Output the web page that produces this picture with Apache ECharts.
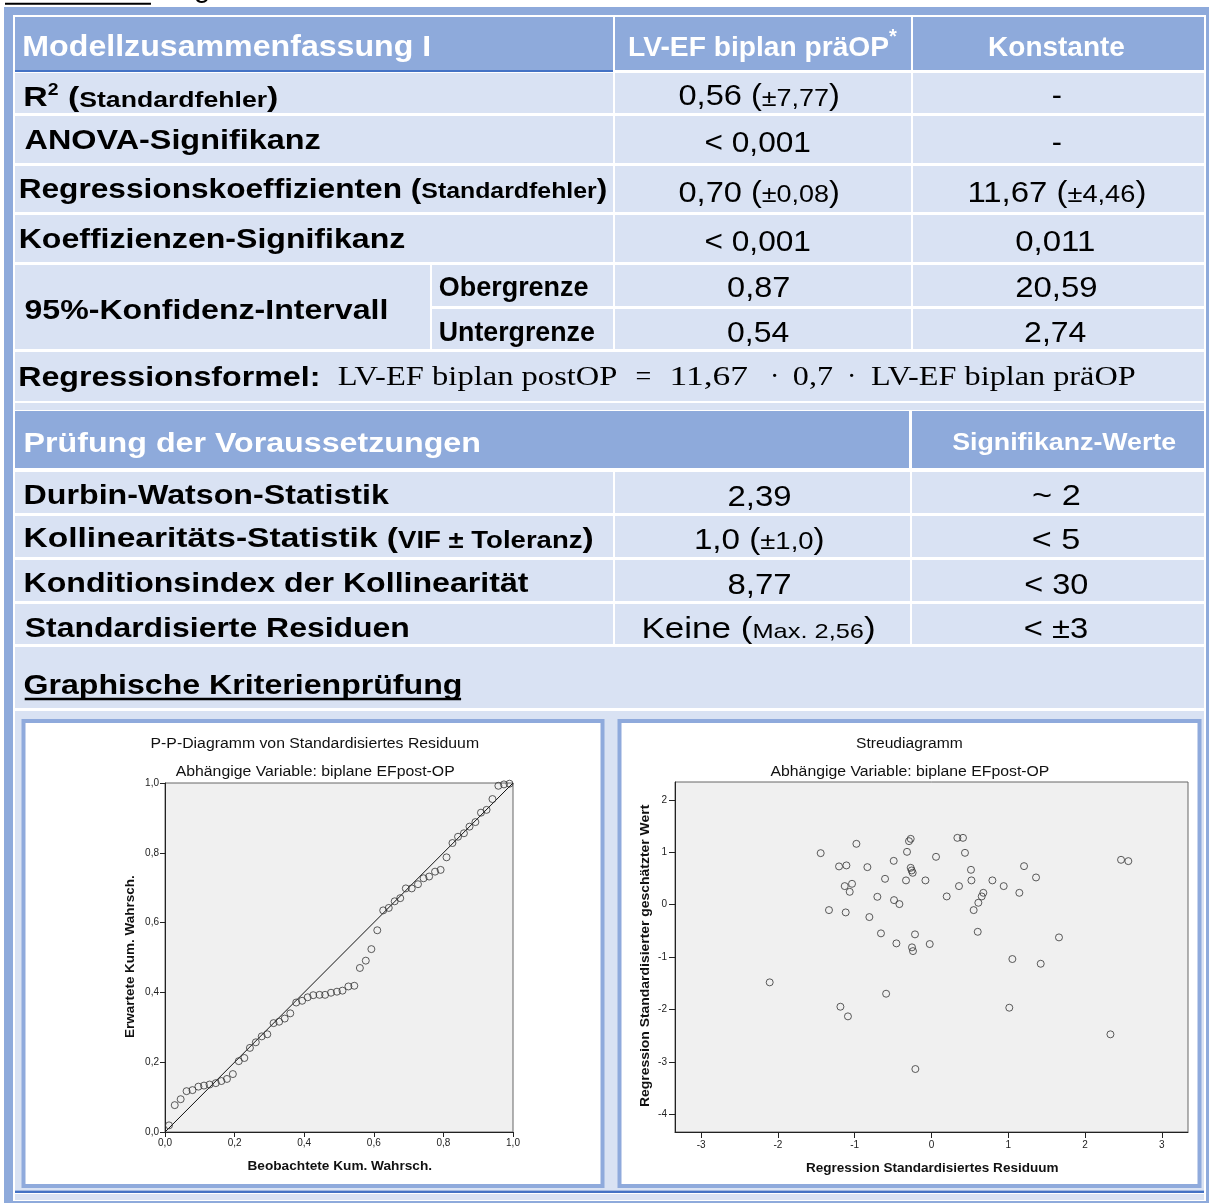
<!DOCTYPE html>
<html>
<head>
<meta charset="utf-8">
<script src="https://cdn.jsdelivr.net/npm/echarts@6.0.0/dist/echarts.min.js"></script>
<style>
html,body{margin:0;padding:0;background:#ffffff;}
#chart{width:1209px;height:1203px;}
</style>
</head>
<body>
<div id="chart"></div>
<script>
// ================= DATA =================
const tableCaption = 'Tabelle 12: Regressionsmodell';
const modelHeaders = ['Modellzusammenfassung I', 'LV-EF biplan präOP{sup|*}', 'Konstante'];
const modelRowLabels = ['R{sup|2} ({s|Standardfehler})', 'ANOVA-Signifikanz', 'Regressionskoeffizienten ({s|Standardfehler})', 'Koeffizienzen-Signifikanz', '95%-Konfidenz-Intervall'];
const ciLabels = ['Obergrenze', 'Untergrenze'];
const lvefValues = ['0,56 ({s|±7,77})', '< 0,001', '0,70 ({s|±0,08})', '< 0,001', '0,87', '0,54'];
const constantValues = ['-', '-', '11,67 ({s|±4,46})', '0,011', '20,59', '2,74'];
const formulaLabel = 'Regressionsformel:';
const formulaParts = ['LV-EF biplan postOP', '=', '11,67', '·', '0,7', '·', 'LV-EF biplan präOP'];
const checkHeaders = ['Prüfung der Voraussetzungen', 'Signifikanz-Werte'];
const checkLabels = ['Durbin-Watson-Statistik', 'Kollinearitäts-Statistik ({s|VIF ± Toleranz})', 'Konditionsindex der Kollinearität', 'Standardisierte Residuen'];
const checkValues = ['2,39', '1,0 ({s|±1,0})', '8,77', 'Keine ({s|Max. 2,56})'];
const checkThresholds = ['~ 2', '< 5', '< 30', '< ±3'];
const graphSectionTitle = 'Graphische Kriterienprüfung';

const ppTitles = ['P-P-Diagramm von Standardisiertes Residuum', 'Abhängige Variable: biplane EFpost-OP'];
const ppAxisNames = ['Beobachtete Kum. Wahrsch.', 'Erwartete Kum. Wahrsch.'];
const scTitles = ['Streudiagramm', 'Abhängige Variable: biplane EFpost-OP'];
const scAxisNames = ['Regression Standardisiertes Residuum', 'Regression Standardisierter geschätzter Wert'];

// P-P plot: observed vs expected cumulative probability
const ppObserved = [0.0115,0.028,0.045,0.062,0.079,0.096,0.112,0.128,0.146,0.162,
  0.178,0.195,0.212,0.228,0.244,0.261,0.278,0.294,0.312,0.328,
  0.344,0.360,0.377,0.394,0.410,0.426,0.444,0.460,0.477,0.494,
  0.510,0.527,0.544,0.560,0.577,0.593,0.610,0.627,0.643,0.660,
  0.676,0.692,0.709,0.727,0.743,0.759,0.776,0.792,0.809,0.826,
  0.842,0.859,0.875,0.892,0.908,0.924,0.941,0.958,0.974,0.990];
const ppExpected = [0.019,0.077,0.094,0.117,0.120,0.130,0.133,0.136,0.140,0.146,
  0.152,0.166,0.203,0.212,0.241,0.257,0.274,0.280,0.312,0.316,
  0.325,0.340,0.371,0.376,0.386,0.392,0.393,0.393,0.399,0.402,
  0.405,0.417,0.419,0.470,0.491,0.524,0.578,0.635,0.642,0.661,
  0.670,0.698,0.698,0.710,0.727,0.732,0.746,0.751,0.787,0.828,
  0.846,0.856,0.875,0.888,0.915,0.923,0.954,0.992,0.996,0.998];
const ppDiagonal = [[0, 0], [1, 1]];

// Scatter: standardized residual vs standardized predicted value
const stdResidual = [-1.443,-0.978,-1.335,-1.204,-1.108,-1.130,-1.035,-1.065,-1.117,-0.835,
  -0.809,-0.605,-0.705,-0.658,-0.492,-0.488,-0.418,-0.457,-0.319,-0.293,
  -0.271,-0.271,-0.258,-0.245,-0.332,-0.215,-0.254,-0.241,0.337,0.410,
  0.436,0.059,0.514,-0.079,0.520,0.358,0.793,0.940,1.205,1.361,
  1.144,0.198,0.675,0.654,0.610,0.549,0.602,-0.023,1.660,1.053,
  1.422,2.468,2.563,-2.107,-1.186,-1.088,-0.591,1.013,2.330,-0.210];
const stdPredicted = [0.982,1.160,-0.105,0.729,0.748,0.353,0.397,0.244,-0.149,0.715,
  -0.238,0.492,0.149,-0.549,0.835,0.086,0.010,-0.740,1.007,1.211,
  1.255,0.702,0.652,0.607,0.462,-0.568,-0.816,-0.887,1.274,1.274,
  0.988,0.912,0.664,0.462,0.462,0.353,0.462,0.353,0.734,0.518,
  0.225,0.156,0.225,0.156,0.035,-0.105,-0.519,-0.753,-0.626,-1.039,
  -1.129,0.855,0.830,-1.484,-1.949,-2.133,-1.701,-1.968,-2.476,-3.138];
const residualTicks = [-3, -2, -1, 0, 1, 2, 3];
const predictedTicks = [-4, -3, -2, -1, 0, 1, 2];

// ================= STYLE / LAYOUT =================
const SANS = '"Liberation Sans", Arial, sans-serif';
const SERIF = '"Liberation Serif", "Times New Roman", serif';
const BLUE = '#8EAADB', LIGHT = '#D9E2F3', DARK = '#4472C4', WHITE = '#ffffff';

const mctx = document.createElement('canvas').getContext('2d');
function parseMarkup(str) {
  const segs = []; const re = /\{(\w+)\|([^}]*)\}/g; let last = 0, m;
  while ((m = re.exec(str))) {
    if (m.index > last) segs.push({t: str.slice(last, m.index), k: 'n'});
    segs.push({t: m[2], k: m[1]});
    last = re.lastIndex;
  }
  if (last < str.length) segs.push({t: str.slice(last), k: 'n'});
  return segs;
}
// box: [x0, x1, capCenterY]  or for rotated text [centerX, yTop, yBottom]
function txt(str, box, st) {
  const size = st.size, fam = st.family || SANS, wt = st.weight || 'normal', col = st.color || '#000';
  const segs = parseMarkup(str);
  const base = 0.358 * size + 0.09 * size;
  let pos = 0, inkL = Infinity, inkR = -Infinity;
  const kids = [];
  segs.forEach(sg => {
    let sz = size, raise = 0;
    if (sg.k === 's') sz = st.small;
    else if (sg.k === 'sup') { sz = st.supSize; raise = st.supRaise; }
    const font = wt + ' ' + sz + 'px ' + fam;
    mctx.font = font;
    const m = mctx.measureText(sg.t);
    inkL = Math.min(inkL, pos - m.actualBoundingBoxLeft);
    inkR = Math.max(inkR, pos + m.actualBoundingBoxRight);
    kids.push({type: 'text', x: pos, y: base - 0.3465 * sz - raise, z: 1, z2: 10, silent: true,
      style: {text: sg.t, font: font, fill: col, align: 'left', verticalAlign: 'middle'}});
    pos += m.width;
  });
  const inkW = inkR - inkL;
  const g = {type: 'group', silent: true, children: kids};
  if (st.rot) {
    const sc = (box[2] - box[1]) / inkW;
    g.rotation = Math.PI / 2; g.scaleX = sc; g.x = box[0]; g.y = box[2] + inkL * sc;
  } else if (st.sx && st.anchor === 'left') {
    g.scaleX = st.sx; g.x = box[0] - inkL * st.sx; g.y = box[2];
  } else if (st.sx) {
    g.scaleX = st.sx; g.x = (box[0] + box[1]) / 2 - st.sx * (inkL + inkR) / 2; g.y = box[2];
  } else {
    const sc = (box[1] - box[0]) / inkW;
    g.scaleX = sc; g.x = box[0] - inkL * sc; g.y = box[2];
  }
  return g;
}

// cell rectangles [x0, y0, x1, y1, colour]
const cellRects = [[4, 7, 1209, 1203, BLUE], [13, 15, 1206, 1201, WHITE],
  [15, 17, 613, 70, BLUE], [615, 17, 911, 70, BLUE], [913, 17, 1204, 70, BLUE], [15, 70, 613, 72, DARK]];
[[73, 113], [116, 163], [166, 212], [215, 262]].forEach(r => {
  cellRects.push([15, r[0], 613, r[1], LIGHT], [615, r[0], 911, r[1], LIGHT], [913, r[0], 1204, r[1], LIGHT]);
});
cellRects.push([15, 265, 430, 349, LIGHT], [432, 265, 613, 306, LIGHT], [432, 309, 613, 349, LIGHT],
  [615, 265, 911, 306, LIGHT], [913, 265, 1204, 306, LIGHT], [615, 309, 911, 349, LIGHT], [913, 309, 1204, 349, LIGHT],
  [15, 352, 1204, 401, LIGHT], [15, 403, 1204, 410, LIGHT],
  [15, 411, 909, 468, BLUE], [912, 411, 1204, 468, BLUE]);
[[472, 513], [516, 557], [560, 601], [604, 644]].forEach(r => {
  cellRects.push([15, r[0], 613, r[1], LIGHT], [615, r[0], 910, r[1], LIGHT], [912, r[0], 1204, r[1], LIGHT]);
});
cellRects.push([15, 647, 1204, 708, LIGHT], [15, 711, 1204, 1190, LIGHT], [15, 1190.5, 1204, 1193, DARK], [15, 1194, 1204, 1200, LIGHT]);

const els = [];
cellRects.forEach(c => els.push({type: 'rect', z: 0, z2: 0, silent: true,
  shape: {x: c[0], y: c[1], width: c[2] - c[0], height: c[3] - c[1]}, style: {fill: c[4]}}));
// chart boxes
els.push({type: 'rect', z: 0, z2: 1, silent: true, shape: {x: 23.5, y: 721, width: 579, height: 465}, style: {fill: '#fff', stroke: '#8FAADC', lineWidth: 4}});
els.push({type: 'rect', z: 0, z2: 1, silent: true, shape: {x: 619.5, y: 721, width: 580, height: 465}, style: {fill: '#fff', stroke: '#8FAADC', lineWidth: 4}});
// underlines
els.push({type: 'line', z: 1, silent: true, shape: {x1: 5, y1: 3.7, x2: 151, y2: 3.7}, style: {stroke: '#000', lineWidth: 2}});
els.push({type: 'line', z: 1, silent: true, shape: {x1: 24.7, y1: 699, x2: 461.1, y2: 699}, style: {stroke: '#000', lineWidth: 2.5}});

const LBL = {size: 28, weight: 'bold', small: 22, supSize: 16, supRaise: 12.5};
const HDR = {size: 28, weight: 'bold', color: '#fff', supSize: 20, supRaise: 13};
const VAL = {size: 29, small: 24};

els.push(txt(tableCaption, [5, 0, -13.5], {size: 29, sx: 1.02, anchor: 'left'}));
const modelHeaderBoxes = [[24.5, 429.8, 44.2], [629.1, 897.1, 45], [989.1, 1124.3, 45]];
modelHeaders.forEach((t, i) => els.push(txt(t, modelHeaderBoxes[i], i === 0 ? Object.assign({}, HDR, {size: 30}) : HDR)));
const modelLabelBoxes = [[24.5, 276.8, 95.8], [24.5, 319.5, 138.3], [19.8, 605.8, 187.5], [19.8, 404.1, 237.5], [24.5, 386.3, 308.3]];
modelRowLabels.forEach((t, i) => els.push(txt(t, modelLabelBoxes[i], LBL)));
const ciBoxes = [[439.7, 588, 285.8], [439.7, 594.3, 330.8]];
ciLabels.forEach((t, i) => els.push(txt(t, ciBoxes[i], LBL)));
const lvefBoxes = [[679.6, 838.1, 94.2], [705.6, 809.7, 140.8], [679.6, 838.1, 190.8], [705.6, 809.7, 240], [728.2, 789.1, 285.8], [728.2, 789.1, 330.8]];
lvefValues.forEach((t, i) => els.push(txt(t, lvefBoxes[i], VAL)));
const constBoxes = [[1052.4, 1061.4, 94.2], [1052.4, 1061.4, 140.8], [969.7, 1144.5, 190.8], [1016.3, 1094, 240], [1016.3, 1096.3, 285.8], [1025.2, 1086.2, 330.8]];
constantValues.forEach((t, i) => els.push(txt(t, constBoxes[i], t === '-' ? Object.assign({}, VAL, {sx: 1.05}) : VAL)));
els.push(txt(formulaLabel, [19.3, 317.7, 375], LBL));
const formulaBoxes = [[337.7, 616.8], [632, 655], [672, 748], [771, 779], [794, 833], [848, 856], [871, 1135]];
formulaParts.forEach((t, i) => {
  const st = {size: 28, family: SERIF};
  if (t === '=' || t === '·') st.sx = 1.0;
  els.push(txt(t, [formulaBoxes[i][0], formulaBoxes[i][1], 375], st));
});
els.push(txt(checkHeaders[0], [24.7, 479.6, 441.7], HDR));
els.push(txt(checkHeaders[1], [952.2, 1175.8, 440.8], Object.assign({}, HDR, {size: 24})));
const checkLabelBoxes = [[24.7, 389.4, 493.3], [24.7, 592.1, 536.7], [24.7, 528.1, 581.7], [24.7, 408.6, 626.7]];
checkLabels.forEach((t, i) => els.push(txt(t, checkLabelBoxes[i], Object.assign({}, LBL, {small: 23}))));
const checkValueBoxes = [[728.6, 790.3, 495], [696.2, 822.7, 538], [728.6, 790.3, 583], [643.8, 873.6, 626.7]];
checkValues.forEach((t, i) => els.push(txt(t, checkValueBoxes[i], Object.assign({}, VAL, {small: i === 3 ? 21 : 24}))));
const checkThrBoxes = [[1033.2, 1079.4, 494.5], [1033, 1079, 538], [1025.4, 1087.1, 583], [1025, 1087, 626.7]];
checkThresholds.forEach((t, i) => els.push(txt(t, checkThrBoxes[i], VAL)));
els.push(txt(graphSectionTitle, [24.7, 461.1, 683.3], LBL));

// chart titles and axis names
const CT = {size: 14, color: '#111'};
const AN = {size: 13, weight: 'bold', color: '#111'};
els.push(txt(ppTitles[0], [151.7, 478.3, 742.7], CT));
els.push(txt(ppTitles[1], [175.7, 454.3, 770.7], CT));
els.push(txt(scTitles[0], [856, 962, 742.7], CT));
els.push(txt(scTitles[1], [770.5, 1049, 770.7], CT));
els.push(txt(ppAxisNames[0], [247.5, 431.4, 1165.3], AN));
els.push(txt(scAxisNames[0], [806, 1057.9, 1166.7], AN));
els.push(txt(ppAxisNames[1], [129, 876, 1038], Object.assign({}, AN, {rot: true})));
els.push(txt(scAxisNames[1], [644, 804, 1107], Object.assign({}, AN, {rot: true})));

// ================= CHART =================
const chart = echarts.init(document.getElementById('chart'), null, {renderer: 'canvas'});
const axisCommon = {
  type: 'value', z: 4,
  axisLine: {show: true, onZero: false, lineStyle: {color: '#222', width: 1}},
  splitLine: {show: false},
  axisLabel: {fontSize: 10, color: '#222', fontFamily: SANS}
};
const comma = v => v.toFixed(1).replace('.', ',');
const option = {
  animation: false,
  backgroundColor: '#ffffff',
  textStyle: {fontFamily: SANS},
  graphic: {elements: els},
  grid: [
    {left: 165, top: 783, width: 348, height: 349, show: true, backgroundColor: '#F0F0F0', borderColor: '#666', borderWidth: 1, z: 3},
    {left: 675, top: 782, width: 513, height: 350, show: true, backgroundColor: '#F0F0F0', borderColor: '#666', borderWidth: 1, z: 3}
  ],
  xAxis: [
    Object.assign({}, axisCommon, {gridIndex: 0, min: 0, max: 1, interval: 0.2,
      axisTick: {show: true, length: 5, lineStyle: {color: '#222'}},
      axisLabel: Object.assign({}, axisCommon.axisLabel, {margin: 6, formatter: comma})}),
    Object.assign({}, axisCommon, {gridIndex: 1, min: -3.34, max: 3.34,
      axisTick: {show: true, length: 6, customValues: residualTicks, lineStyle: {color: '#222'}},
      axisLabel: Object.assign({}, axisCommon.axisLabel, {margin: 8, customValues: residualTicks, formatter: v => String(v)})})
  ],
  yAxis: [
    Object.assign({}, axisCommon, {gridIndex: 0, min: 0, max: 1, interval: 0.2,
      axisTick: {show: true, length: 5, lineStyle: {color: '#222'}},
      axisLabel: Object.assign({}, axisCommon.axisLabel, {margin: 6, formatter: comma})}),
    Object.assign({}, axisCommon, {gridIndex: 1, min: -4.34, max: 2.34,
      axisTick: {show: true, length: 6, customValues: predictedTicks, lineStyle: {color: '#222'}},
      axisLabel: Object.assign({}, axisCommon.axisLabel, {margin: 8, customValues: predictedTicks, formatter: v => String(v)})})
  ],
  series: [
    {type: 'line', xAxisIndex: 0, yAxisIndex: 0, data: ppDiagonal, symbol: 'none', silent: true, z: 5,
      lineStyle: {color: '#111', width: 1}},
    {type: 'scatter', xAxisIndex: 0, yAxisIndex: 0, silent: true, z: 6,
      data: ppObserved.map((x, i) => [x, ppExpected[i]]),
      symbol: 'circle', symbolSize: 7,
      itemStyle: {color: 'rgba(0,0,0,0)', borderColor: '#333', borderWidth: 1}},
    {type: 'scatter', xAxisIndex: 1, yAxisIndex: 1, silent: true, z: 6,
      data: stdResidual.map((x, i) => [x, stdPredicted[i]]),
      symbol: 'circle', symbolSize: 7,
      itemStyle: {color: 'rgba(0,0,0,0)', borderColor: '#333', borderWidth: 1}}
  ]
};
chart.setOption(option);
</script>
</body>
</html>
